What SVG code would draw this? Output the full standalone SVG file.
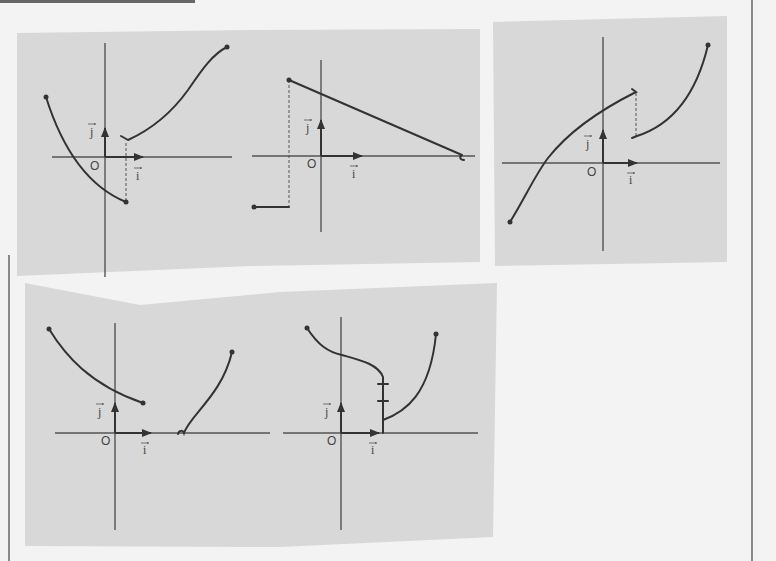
<svg xmlns="http://www.w3.org/2000/svg" width="776" height="561" viewBox="0 0 776 561">
<defs>
<marker id="ah" viewBox="0 0 10 10" refX="9" refY="5" markerWidth="5" markerHeight="5" orient="auto"><path d="M0,1 L10,5 L0,9 z" fill="#333"/></marker>
<marker id="sa" viewBox="0 0 10 10" refX="9" refY="5" markerWidth="3" markerHeight="3" orient="auto"><path d="M0,1 L10,5 L0,9 z" fill="#555"/></marker>
</defs>
<style>
.paper{fill:#d8d8d8}
.ax{stroke:#555;stroke-width:1.4;fill:none}
.cv{stroke:#333;stroke-width:2;fill:none;stroke-linecap:round}
.vec{stroke:#333;stroke-width:2;fill:none;marker-end:url(#ah)}
.dash{stroke:#555;stroke-width:1;stroke-dasharray:3,2;fill:none}
.dot{fill:#333}
.lbl{font-family:"Liberation Sans",Arial,sans-serif;font-size:12px;fill:#444}
.sm{font-family:"Liberation Serif",serif;font-size:12px;fill:#444}
.va{stroke:#555;stroke-width:0.8;marker-end:url(#sa)}
.edge{stroke:#444;stroke-width:1.2}
</style>
<rect width="776" height="561" fill="#f3f3f3"/>
<line class="edge" x1="752" y1="0" x2="752" y2="561"/>
<line class="edge" x1="9" y1="255" x2="9" y2="561"/>
<line x1="0" y1="1.5" x2="195" y2="1.5" stroke="#666" stroke-width="3"/>
<g id="papers">
<polygon class="paper" points="17,33 250,30 480,29 480,262 250,266 17,276"/>
<polygon class="paper" points="493,22 727,16 727,262 495,266"/>
<polygon class="paper" points="25,283 140,305 280,292 497,283 493,537 280,547 25,546"/>
</g>
<g id="graph1">
<line class="ax" x1="105" y1="43" x2="105" y2="277"/>
<line class="ax" x1="52" y1="157" x2="232" y2="157"/>
<line class="vec" x1="105" y1="157" x2="143" y2="157"/>
<line class="vec" x1="105" y1="157" x2="105" y2="128"/>
<text class="lbl" x="90" y="170">O</text>
<text class="sm" x="136" y="180">i</text><line class="va" x1="134" y1="168" x2="142" y2="168"/>
<text class="sm" x="90" y="136">j</text><line class="va" x1="88" y1="124" x2="96" y2="124"/>
<line class="dash" x1="126" y1="143" x2="126" y2="200"/>
<path class="cv" d="M46,97 Q72,180 126,202"/>
<circle class="dot" cx="46" cy="97" r="2.5"/><circle class="dot" cx="126" cy="202" r="2.5"/>
<path class="cv" d="M121,136 L128,140 C150,130 170,115 188,90 C203,68 213,54 227,47"/>
<circle class="dot" cx="227" cy="47" r="2.5"/>
</g>
<g id="graph2">
<line class="ax" x1="321" y1="60" x2="321" y2="232"/>
<line class="ax" x1="252" y1="156" x2="475" y2="156"/>
<line class="vec" x1="321" y1="156" x2="362" y2="156"/>
<line class="vec" x1="321" y1="156" x2="321" y2="120"/>
<text class="lbl" x="307" y="168">O</text>
<text class="sm" x="352" y="178">i</text><line class="va" x1="350" y1="166" x2="358" y2="166"/>
<text class="sm" x="306" y="132">j</text><line class="va" x1="304" y1="120" x2="312" y2="120"/>
<line class="dash" x1="289" y1="80" x2="289" y2="207"/>
<path class="cv" d="M289,80 L462,155 M462,155 C459,157 460,160 464,160"/>
<circle class="dot" cx="289" cy="80" r="2.5"/>
<path class="cv" d="M254,207 L289,207"/>
<circle class="dot" cx="254" cy="207" r="2.5"/>
</g>
<g id="graph3">
<line class="ax" x1="603" y1="37" x2="603" y2="251"/>
<line class="ax" x1="502" y1="163" x2="720" y2="163"/>
<line class="vec" x1="603" y1="163" x2="637" y2="163"/>
<line class="vec" x1="603" y1="163" x2="603" y2="130"/>
<text class="lbl" x="587" y="176">O</text>
<text class="sm" x="629" y="184">i</text><line class="va" x1="627" y1="173" x2="635" y2="173"/>
<text class="sm" x="586" y="148">j</text><line class="va" x1="584" y1="136" x2="592" y2="136"/>
<line class="dash" x1="636" y1="93" x2="636" y2="136"/>
<path class="cv" d="M510,222 C525,198 535,175 548,158 C570,130 600,110 636,92 L632,89"/>
<circle class="dot" cx="510" cy="222" r="2.5"/>
<path class="cv" d="M632,138 L637,136 C668,126 695,100 708,45"/>
<circle class="dot" cx="708" cy="45" r="2.5"/>
</g>
<g id="graph4">
<line class="ax" x1="115" y1="323" x2="115" y2="530"/>
<line class="ax" x1="55" y1="433" x2="270" y2="433"/>
<line class="vec" x1="115" y1="433" x2="151" y2="433"/>
<line class="vec" x1="115" y1="433" x2="115" y2="403"/>
<text class="lbl" x="101" y="445">O</text>
<text class="sm" x="143" y="454">i</text><line class="va" x1="141" y1="443" x2="149" y2="443"/>
<text class="sm" x="98" y="416">j</text><line class="va" x1="96" y1="404" x2="104" y2="404"/>
<path class="cv" d="M49,329 C65,355 90,385 143,403"/>
<circle class="dot" cx="49" cy="329" r="2.5"/><circle class="dot" cx="143" cy="403" r="2.5"/>
<path class="cv" d="M178,434 C179,430 183,430 184,433 C190,415 222,395 232,352"/>
<circle class="dot" cx="232" cy="352" r="2.5"/>
</g>
<g id="graph5">
<line class="ax" x1="341" y1="317" x2="341" y2="530"/>
<line class="ax" x1="283" y1="433" x2="478" y2="433"/>
<line class="vec" x1="341" y1="433" x2="379" y2="433"/>
<line class="vec" x1="341" y1="433" x2="341" y2="403"/>
<text class="lbl" x="327" y="445">O</text>
<text class="sm" x="371" y="454">i</text><line class="va" x1="369" y1="443" x2="377" y2="443"/>
<text class="sm" x="325" y="416">j</text><line class="va" x1="323" y1="404" x2="331" y2="404"/>
<path class="cv" d="M307,328 C318,345 328,352 342,355 C360,360 378,364 383,377 L383,433"/>
<line class="cv" x1="378" y1="384" x2="388" y2="384"/>
<line class="cv" x1="378" y1="401" x2="388" y2="401"/>
<circle class="dot" cx="307" cy="328" r="2.5"/>
<path class="cv" d="M383,420 C405,412 430,395 436,334"/>
<circle class="dot" cx="436" cy="334" r="2.5"/>
</g>
</svg>
